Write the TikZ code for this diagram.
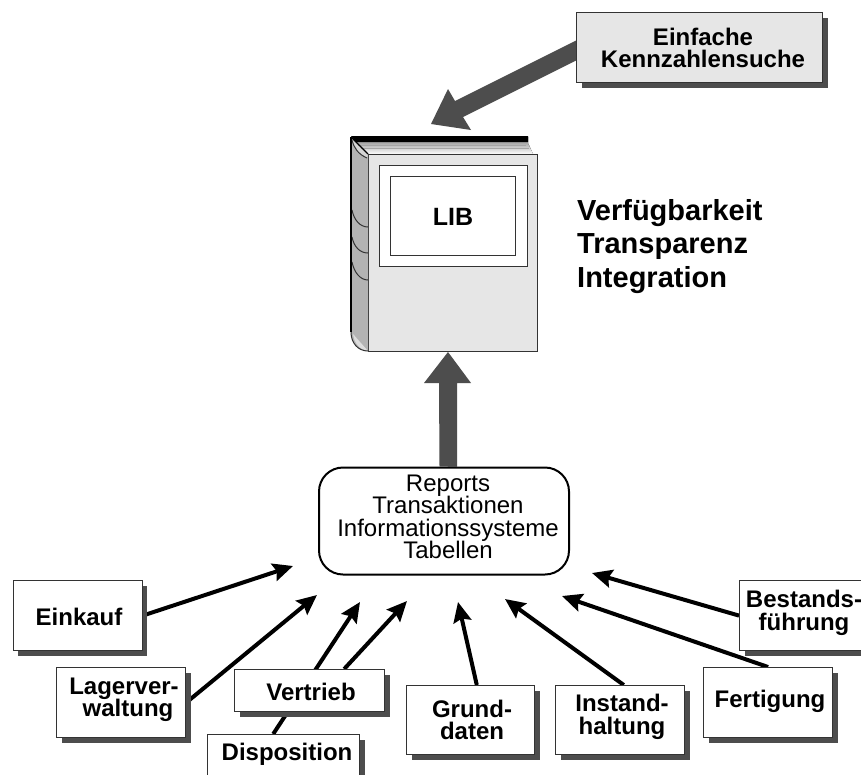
\documentclass[tikz,border=0pt]{standalone}
\usepackage{fontspec}
\setmainfont{Liberation Sans}
\usetikzlibrary{arrows.meta,shadows,calc,backgrounds}
\definecolor{shade}{HTML}{4D4D4D}
\definecolor{panel}{HTML}{E6E6E6}
\definecolor{spine}{HTML}{B3B3B3}
\definecolor{edge}{HTML}{333333}
\tikzset{
  x=1pt,y=-1pt,
  boxbase/.style={draw=edge,line width=1.2pt,inner sep=0pt,anchor=north west,
    drop shadow={shadow xshift=5pt,shadow yshift=-5pt,fill=shade,opacity=1}},
  whitebox/.style={boxbase,fill=white},
  greybox/.style={boxbase,fill=panel},
  lbl/.style={font=\fontsize{24}{22.5}\selectfont\bfseries,align=center,inner sep=0pt,text=black},
  flow/.style={line width=4pt,black,-{Stealth[length=20pt,width=18pt,inset=3pt]},shorten >=0pt},
  bigarrow/.style={fill=shade,draw=none},
  bookline/.style={draw=edge,line width=1pt},
}
\begin{document}
\begin{tikzpicture}
\clip (0,0) rectangle (861,774);
% feeder boxes
\node[whitebox,minimum width=129pt,minimum height=70pt] (ein) at (12.5,580) {};
\node[whitebox,minimum width=129pt,minimum height=70pt] (lag) at (56,667) {};
\node[whitebox,minimum width=152pt,minimum height=56pt] (dis) at (207,734) {};
\node[whitebox,minimum width=150pt,minimum height=42pt] (ver) at (234,669) {};
\node[whitebox,minimum width=128pt,minimum height=69pt] (gru) at (406,685) {};
\node[whitebox,minimum width=129pt,minimum height=69pt] (ins) at (555,685) {};
\node[whitebox,minimum width=129pt,minimum height=70pt] (fer) at (703,667) {};
\node[whitebox,minimum width=140pt,minimum height=70pt] (bes) at (739,580) {};
\node[greybox,minimum width=246pt,minimum height=70pt] (ekz) at (576,12) {};
% centre box
\node[draw=black,line width=2pt,rounded corners=24pt,fill=white,inner sep=0pt,
  minimum width=250pt,minimum height=107pt,anchor=north west] (rep) at (318,466.5) {};
% book
\node[draw=edge,line width=1pt,fill=panel,inner sep=0pt,minimum width=169pt,minimum height=197pt,anchor=north west] (cover) at (368,154) {};
\node[draw=edge,line width=1pt,fill=white,inner sep=0pt,minimum width=148pt,minimum height=101pt,anchor=north west] (frameA) at (379,165) {};
\node[draw=edge,line width=1pt,fill=white,inner sep=0pt,minimum width=125pt,minimum height=79pt,anchor=north west] (frameB) at (390,176) {};
\fill[spine] (351,137) -- (351,332) .. controls (351,343) and (358,351) .. (368,351) -- (368,154) -- cycle;
\fill[white!55!spine] (353,334) -- (368,351) .. controls (360,350) and (354,343) .. (353,334) -- cycle;
\fill[white!45!spine] (351,137) -- (368,154) -- (367,158) .. controls (358,154) and (354,148) .. (352,140) -- cycle;
\draw[bookline] (352,140) .. controls (354,148) and (358,154) .. (367,158);
\draw[bookline] (352,210) .. controls (354,220) and (360,227) .. (368,227);
\draw[bookline] (352,237) .. controls (354,247) and (360,253) .. (368,253);
\draw[bookline] (352,262) .. controls (354,272) and (360,280) .. (368,280);
\draw[bookline] (351,332) .. controls (351,343) and (358,351) .. (368,351);
\draw[black,line width=2pt] (351,137) -- (351,332);
\fill[shade] (351,137) -- (528,137) -- (528,143) -- (533,154) -- (368,154) -- cycle;
\fill[black] (351,136) -- (528,136) -- (528,142) -- (356,142) -- cycle;
\draw[white!65!black,line width=.5pt] (358,145) -- (526,145);
\draw[white!65!black,line width=.5pt] (361,148.5) -- (529,148.5);
\draw[black,line width=1.2pt] (351,137) -- (368,154);
\draw[edge,line width=1pt] (368,154) -- (537,154);
% labels
\node[lbl] (t1) at (79,617) {Einkauf};
\node[lbl] (t2) at (124,700) {Lagerver-\\\hspace*{8pt}waltung};
\node[lbl] (t3) at (311,692) {Vertrieb};
\node[lbl] (t4) at (287,754) {Disposition};
\node[lbl] (t5) at (472,720) {Grund-\\daten};
\node[lbl] (t6) at (622,717) {Instand-\\haltung};
\node[lbl] (t7) at (770,701) {Fertigung};
\node[lbl] (t8) at (804,613) {Bestands-\\führung};
\node[lbl] (t9) at (703,48) {Einfache\\Kennzahlensuche};
\node[lbl,font=\fontsize{25}{22.5}\selectfont\bfseries] (t10) at (453,217) {LIB};
\node[font=\fontsize{24}{22.5}\selectfont,align=center,inner sep=0pt] (t11) at (448,517) {Reports\\Transaktionen\\Informationssysteme\\Tabellen};
\node[font=\fontsize{29}{33.5}\selectfont\bfseries,align=left,inner sep=0pt,anchor=north west] (t12) at (577,199) {Verfügbarkeit\\Transparenz\\Integration};
% free ends of connectors
\coordinate (p1) at (293,566);
\coordinate (p2) at (317,595);
\coordinate (p3) at (360,602);
\coordinate (p4) at (407,601);
\coordinate (p5) at (458,602);
\coordinate (p6) at (505,599);
\coordinate (p7) at (562,596);
\coordinate (p8) at (592,573);
\begin{pgfonlayer}{background}
\fill[white] (0,0) rectangle (861,774);
\draw[flow] (ein.east) -- (p1);
\draw[flow] (lag.east) -- (p2);
\draw[flow] (dis.110) -- (p3);
\draw[flow] (ver.32.5) -- (p4);
\draw[flow] (gru.80) -- (p5);
\draw[flow] (ins.84) -- (p6);
\draw[flow] (fer.north) -- (p7);
\draw[flow] (bes.west) -- (p8);
\end{pgfonlayer}
% large arrows
\fill[bigarrow] (rep.north) ++(-4.5,0) -- (439,383) -- (424,383) -- (448,352) -- (471,383) -- (457,383) -- (457,467) -- cycle;
\fill[bigarrow] ($(ekz.west)+(0,-7)$) -- (455,101) -- (448,89) -- (431,124) -- (471,130) -- (463,117) -- ($(ekz.west)+(0,13)$) -- cycle;
\end{tikzpicture}
\end{document}
